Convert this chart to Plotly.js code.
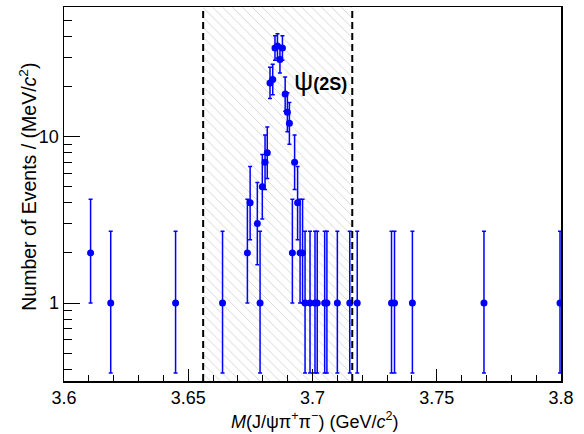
<!DOCTYPE html>
<html>
<head>
<meta charset="utf-8">
<script src="https://cdn.plot.ly/plotly-3.0.1.min.js"></script>
<style>html,body{margin:0;padding:0;background:#fff;}#chart{width:584px;height:434px;}</style>
</head>
<body>
<div id="chart"></div>
<script>
// Data
const mass = [3.6107, 3.6188, 3.6449, 3.6638, 3.6738, 3.6749, 3.6778, 3.6789, 3.6798, 3.6809,
              3.6818, 3.6829, 3.6840, 3.6849, 3.6859, 3.6869, 3.6879, 3.6890, 3.6899, 3.6907,
              3.6919, 3.6928, 3.6940, 3.6950, 3.6960, 3.6970, 3.6990, 3.7010, 3.7019, 3.7049,
              3.7058, 3.7100, 3.7150, 3.7180, 3.7318, 3.7330, 3.7402, 3.7690, 3.7996];
const counts = [2, 1, 1, 1, 2, 4, 3, 1, 5, 7,
                8, 21, 22, 34, 35, 29, 34, 18, 14, 12,
                2, 7, 4, 2, 2, 1, 1, 1, 1, 1,
                1, 1, 1, 1, 1, 1, 1, 1, 1];
const errUp = [2.2, 1.7, 1.7, 1.7, 2.2, 2.6, 2.3, 1.7, 2.8, 3.2,
               3.4, 5.1, 5.2, 6.3, 6.4, 5.9, 6.3, 4.8, 4.3, 4.0,
               2.2, 3.2, 2.6, 2.2, 2.2, 1.7, 1.7, 1.7, 1.7, 1.7,
               1.7, 1.7, 1.7, 1.7, 1.7, 1.7, 1.7, 1.7, 1.7];
const errDown = [1.0, 0.62, 0.62, 0.62, 1.0, 1.6, 1.3, 0.62, 1.8, 2.2,
                 2.4, 4.1, 4.2, 5.3, 5.4, 4.9, 5.3, 3.8, 3.3, 3.0,
                 1.0, 2.2, 1.6, 1.0, 1.0, 0.62, 0.62, 0.62, 0.62, 0.62,
                 0.62, 0.62, 0.62, 0.62, 0.62, 0.62, 0.62, 0.62, 0.62];
const signalWindow = [3.656, 3.716];
const xTickVals = [3.6, 3.65, 3.7, 3.75, 3.8];
const xTickText = ["3.6", "3.65", "3.7", "3.75", "3.8"];
const yTickVals = [1, 10];
const yTickText = ["1", "10"];
const yMinorVals = [0.4, 0.5, 0.6, 0.7, 0.8, 0.9, 2, 3, 4, 5, 6, 7, 8, 9, 20, 30, 40, 50];
const yRange = [0.34, 60];
const peakLabel = {x: 3.6916, y: 21.5, text: 'ψ(2S)'};

const FONT = "Liberation Sans, Arial, Helvetica, sans-serif";

const band = {
  x: [signalWindow[0], signalWindow[1], signalWindow[1], signalWindow[0], signalWindow[0]],
  y: [yRange[0], yRange[0], yRange[1], yRange[1], yRange[0]],
  mode: 'lines', fill: 'toself', line: {width: 0, color: 'rgba(0,0,0,0)'},
  fillcolor: 'rgba(0,0,0,0)',
  fillpattern: {shape: '\\', fgcolor: '#cfcfcf', bgcolor: 'rgba(255,255,255,0)', size: 7, solidity: 0.12, fillmode: 'replace'},
  hoverinfo: 'skip', showlegend: false
};

const pts = {
  x: mass, y: counts, mode: 'markers', type: 'scatter',
  marker: {color: '#0000ff', size: 7},
  error_y: {type: 'data', symmetric: false, array: errUp, arrayminus: errDown,
            color: '#0000ff', thickness: 1.5, width: 2},
  showlegend: false
};

const layout = {
  width: 584, height: 434,
  margin: {l: 64, r: 23, t: 7, b: 53},
  paper_bgcolor: '#fff', plot_bgcolor: '#fff',
  font: {family: FONT, size: 18, color: '#000'},
  showlegend: false,
  xaxis: {
    range: [xTickVals[0], xTickVals[xTickVals.length - 1]],
    tickmode: 'array', tickvals: xTickVals, ticktext: xTickText,
    ticks: 'inside', ticklen: 12, tickwidth: 1, tickcolor: '#000',
    minor: {ticks: 'inside', ticklen: 6, dtick: 0.01, tick0: 3.6, tickcolor: '#000', tickwidth: 1},
    showline: true, linecolor: '#000', linewidth: 1.5, mirror: true,
    showgrid: false, zeroline: false,
    tickfont: {family: FONT, size: 18}
  },
  yaxis: {
    type: 'log',
    range: [Math.log10(yRange[0]), Math.log10(yRange[1])],
    tickmode: 'array', tickvals: yTickVals, ticktext: yTickText,
    ticks: 'inside', ticklen: 16, tickwidth: 1, tickcolor: '#000',
    minor: {ticks: 'inside', ticklen: 8, tickmode: 'array', tickvals: yMinorVals, tickcolor: '#000', tickwidth: 1},
    showline: true, linecolor: '#000', linewidth: 1.5, mirror: true,
    showgrid: false, zeroline: false,
    tickfont: {family: FONT, size: 18}
  },
  shapes: signalWindow.map(v => ({
    type: 'line', xref: 'x', yref: 'paper', x0: v, x1: v, y0: 0, y1: 1,
    line: {color: '#000', width: 2, dash: '7px,4px'}
  })),
  annotations: [
    {xref: 'paper', yref: 'paper', x: 0.505, y: -0.105, yanchor: 'middle', xanchor: 'center', showarrow: false,
     text: '<i>M</i>(J/ψπ<sup>+</sup>π<sup>−</sup>) (GeV/<i>c</i><sup>2</sup>)', font: {family: FONT, size: 18}},
    {xref: 'paper', yref: 'paper', x: -0.074, y: 0.52, xanchor: 'center', yanchor: 'middle', textangle: -90, showarrow: false,
     text: 'Number of Events / (MeV/<i>c</i><sup>2</sup>)', font: {family: FONT, size: 19.5}},
    {xref: 'x', yref: 'y', x: peakLabel.x, y: Math.log10(peakLabel.y), xanchor: 'left', yanchor: 'middle', showarrow: false,
     text: '<span style="font-size:27px">ψ</span><b>(2S)</b>', font: {family: FONT, size: 18}}
  ]
};

Plotly.newPlot('chart', [band, pts], layout, {displayModeBar: false, staticPlot: true});
</script>
</body>
</html>
